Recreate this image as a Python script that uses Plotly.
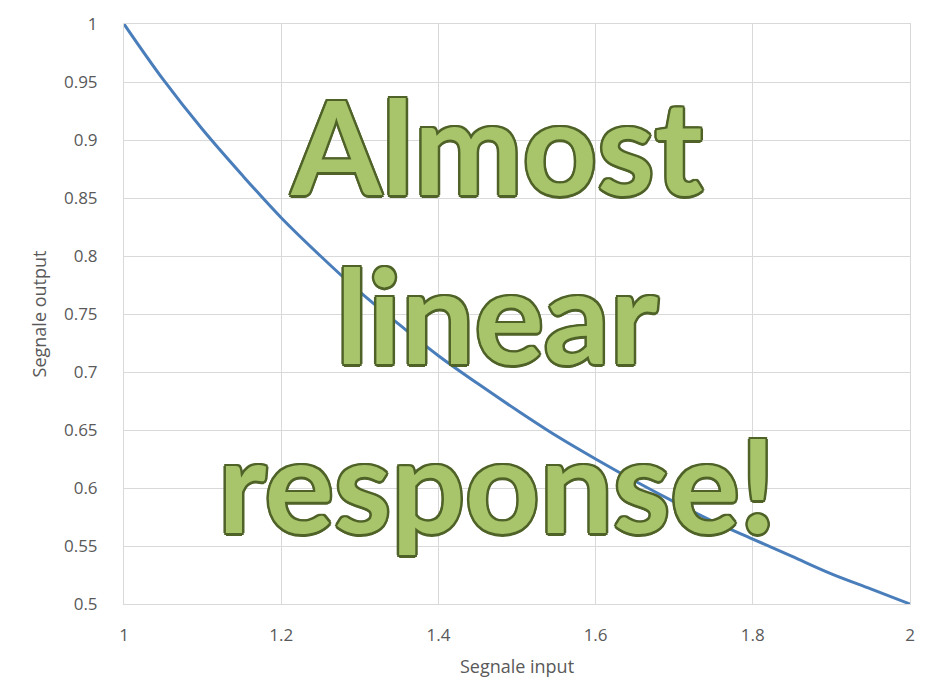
import plotly.graph_objects as go

x_input = [1.0, 1.05, 1.1, 1.15, 1.2, 1.25, 1.3, 1.35, 1.4, 1.45, 1.5, 1.55, 1.6,
           1.65, 1.7, 1.75, 1.8, 1.85, 1.9, 1.95, 2.0]
y_output = [1.0, 0.952, 0.909, 0.870, 0.833, 0.800, 0.769, 0.741, 0.714, 0.690, 0.667,
            0.645, 0.625, 0.606, 0.588, 0.571, 0.556, 0.541, 0.526, 0.513, 0.5]
x_ticks = [1, 1.2, 1.4, 1.6, 1.8, 2]
y_ticks = [0.5, 0.55, 0.6, 0.65, 0.7, 0.75, 0.8, 0.85, 0.9, 0.95, 1]
overlay_text = "Almost<br>linear<br>response!"

fig = go.Figure()
fig.add_trace(go.Scatter(x=x_input, y=y_output, mode="lines", line_shape="spline",
                         line=dict(color="#4a7ebb", width=3), showlegend=False))

oc = "#4f6228"
fig.add_annotation(
    x=0.475, y=0.50, xref="paper", yref="paper", text=overlay_text, showarrow=False,
    align="center",
    font=dict(family="Lato", size=130, color="#a8c56c", weight="bold",
              shadow=f"2.5px 0 0 {oc}, -2.5px 0 0 {oc}, 0 2.5px 0 {oc}, 0 -2.5px 0 {oc}, "
                     f"1.8px 1.8px 0 {oc}, -1.8px -1.8px 0 {oc}, 1.8px -1.8px 0 {oc}, -1.8px 1.8px 0 {oc}"),
)

axis_font = dict(family="Open Sans", size=17, color="#595959")
title_font = dict(family="Open Sans", size=18, color="#595959")
fig.update_layout(
    width=928, height=690,
    margin=dict(l=124, r=18, t=14, b=86),
    paper_bgcolor="white", plot_bgcolor="white",
    xaxis=dict(range=[1, 2], tickvals=x_ticks, ticktext=[str(v) for v in x_ticks],
               showgrid=True, gridcolor="#d9d9d9", gridwidth=1,
               showline=True, linecolor="#d9d9d9", mirror=True, zeroline=False,
               tickfont=axis_font, ticks="", ticklabelstandoff=16,
               title=dict(text="Segnale input", font=title_font, standoff=14)),
    yaxis=dict(range=[0.5, 1], tickvals=y_ticks, ticktext=[f"{v:g}" for v in y_ticks],
               showgrid=True, gridcolor="#d9d9d9", gridwidth=1,
               showline=True, linecolor="#d9d9d9", mirror=True, zeroline=False,
               tickfont=axis_font, ticks="", ticklabelstandoff=22,
               title=dict(text="Segnale output", font=title_font, standoff=12)),
)

fig.write_html("out.html")
